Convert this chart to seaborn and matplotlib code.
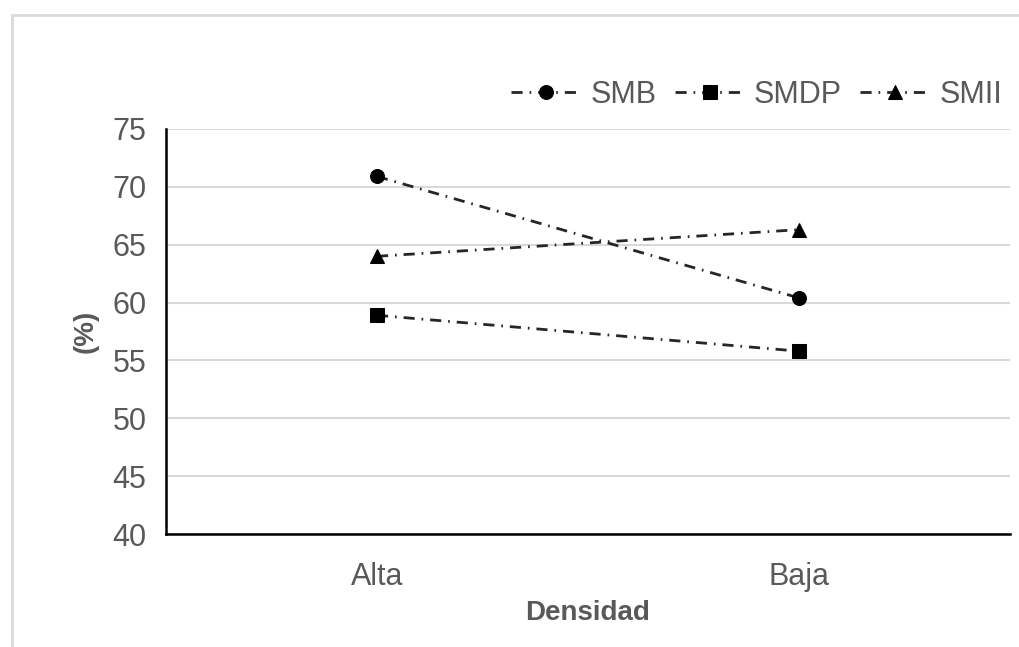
import matplotlib
matplotlib.use("Agg")
import matplotlib.pyplot as plt
import seaborn as sns
import pandas as pd
from matplotlib.patches import Rectangle

categories = ["Alta", "Baja"]
series_names = ["SMB", "SMDP", "SMII"]
smb = [70.9, 60.4]
smdp = [58.9, 55.8]
smii = [64.0, 66.3]
y_ticks = [40, 45, 50, 55, 60, 65, 70, 75]

rows = []
for name, vals in zip(series_names, [smb, smdp, smii]):
    for i, v in enumerate(vals):
        rows.append({"pos": i, "Densidad": categories[i], "serie": name, "valor": v})
df = pd.DataFrame(rows)

sns.set_theme(style="white")
plt.rcParams["font.family"] = ["Liberation Sans", "DejaVu Sans"]

fig = plt.figure(figsize=(10.19, 6.47), dpi=100)
ax = fig.add_axes([166 / 1019, 1 - 534 / 647, (1010 - 166) / 1019, (534 - 129) / 647])

# outer light border
fig.patches.append(Rectangle((12 / 1019, -0.05), 1.1, 1 - 15 / 647 + 0.05, transform=fig.transFigure,
                             fill=False, edgecolor="#d9d9d9", linewidth=2, zorder=0))

palette = {"SMB": "#262626", "SMDP": "#262626", "SMII": "#262626"}
markers = {"SMB": "o", "SMDP": "s", "SMII": "^"}
dash = (4, 2.5, 0.6, 2.5)
dashes = {"SMB": dash, "SMDP": dash, "SMII": dash}

sns.lineplot(data=df, x="pos", y="valor", hue="serie", style="serie", palette=palette,
             markers=markers, dashes=dashes, markersize=10, linewidth=2,
             markeredgecolor="black", markerfacecolor="black", ax=ax, zorder=3)

ax.set_xlim(-0.5, 1.5)
ax.set_ylim(40, 75)
ax.set_yticks(y_ticks)
ax.set_xticks(range(len(categories)))
ax.set_xticklabels(categories)
ax.grid(axis="y", color="#d9d9d9", linewidth=1.5)
ax.grid(axis="x", visible=False)
ax.set_axisbelow(True)
for s in ["top", "right"]:
    ax.spines[s].set_visible(False)
for s in ["left", "bottom"]:
    ax.spines[s].set_color("black")
    ax.spines[s].set_linewidth(1.8)
ax.tick_params(axis="both", length=0, labelsize=22, colors="#595959", pad=14)
ax.tick_params(axis="x", pad=20)

ax.set_xlabel("Densidad", fontsize=20, fontweight="bold", color="#595959", labelpad=6)
ax.set_ylabel("(%)", fontsize=20, fontweight="bold", color="#595959")
ax.yaxis.set_label_coords(-0.08, 0.5)

handles, labels = ax.get_legend_handles_labels()
leg = ax.legend(handles, labels, ncol=3, frameon=False, fontsize=22, labelcolor="#595959",
                loc="center right", handlelength=2.3, handletextpad=0.3, columnspacing=0.6)
leg.set_bbox_to_anchor((1030 / 1019, 1 - 95 / 647), transform=fig.transFigure)

fig.savefig("out.png", dpi=100, facecolor="white")
